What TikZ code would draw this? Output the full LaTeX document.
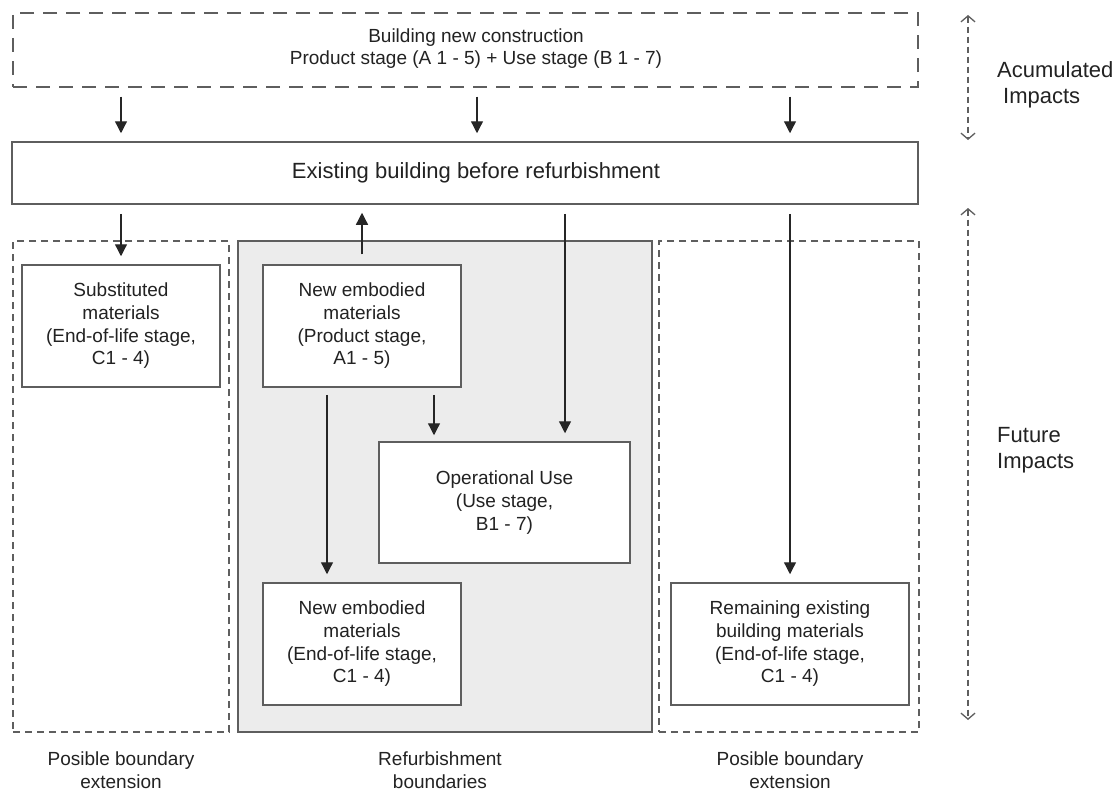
\documentclass[tikz,border=0pt]{standalone}
\usepackage{fontspec}
\setmainfont{Liberation Sans}
\usetikzlibrary{arrows.meta}
\definecolor{boxc}{HTML}{5E5E5E}
\definecolor{arrc}{HTML}{262626}
\definecolor{txtc}{HTML}{222222}
\definecolor{grayfill}{HTML}{ECECEC}
\tikzset{
  box/.style={draw=boxc, line width=1.5pt, fill=white, inner sep=0pt, align=center, text=txtc, font=\fontsize{19}{22.7}\selectfont},
  dbox/.style={draw=boxc, line width=1.4pt, dash pattern=on 7pt off 5pt, inner sep=0pt},
  topbox/.style={draw=boxc, line width=1.4pt, dash pattern=on 14pt off 9pt, inner sep=0pt},
  graybox/.style={draw=boxc, line width=1.5pt, fill=grayfill, inner sep=0pt},
  txt/.style={align=center, text=txtc, inner sep=0pt, font=\fontsize{19}{22.7}\selectfont},
  bigtxt/.style={align=left, text=txtc, inner sep=0pt, font=\fontsize{22}{26}\selectfont},
  arr/.style={draw=arrc, line width=1.3pt, -{Triangle[length=12pt,width=12pt]}, shorten <=9pt, shorten >=8pt},
  dblarr/.style={draw=boxc, line width=1.2pt, dash pattern=on 6pt off 4pt, {Straight Barb[length=6pt,width=14pt,line width=1.3pt]}-{Straight Barb[length=6pt,width=14pt,line width=1.3pt]}}
}
\begin{document}
\begin{tikzpicture}[x=1pt,y=-1pt]
\useasboundingbox (0,0) rectangle (1118,792);
% containers
\node[topbox, minimum width=905pt, minimum height=74pt] (top) at (465.5,50) {};
\node[txt] (toptxt) at (476,48.5) {Building new construction\\Product stage (A 1 - 5) + Use stage (B 1 - 7)};
\node[box, minimum width=906pt, minimum height=62pt] (exist) at (465,173) {};
\node[txt, font=\fontsize{22}{26}\selectfont] (existtxt) at (476,173) {Existing building before refurbishment};
\node[dbox, minimum width=216pt, minimum height=491pt] (leftext) at (121,486.5) {};
\node[graybox, minimum width=414pt, minimum height=491pt] (refurb) at (445,486.5) {};
\node[dbox, minimum width=260pt, minimum height=491pt] (rightext) at (789,486.5) {};
% inner boxes
\node[box, minimum width=198pt, minimum height=122pt] (subst) at (121,326) {Substituted\\materials\\(End-of-life stage,\\C1 - 4)};
\node[box, minimum width=198pt, minimum height=122pt] (newprod) at (362,326) {New embodied\\materials\\(Product stage,\\A1 - 5)};
\node[box, minimum width=251pt, minimum height=121pt] (oper) at (504.5,502.5) {Operational Use\\(Use stage,\\B1 - 7)};
\node[box, minimum width=198pt, minimum height=122pt] (neweol) at (362,644) {New embodied\\materials\\(End-of-life stage,\\C1 - 4)};
\node[box, minimum width=238pt, minimum height=122pt] (remain) at (790,644) {Remaining existing\\building materials\\(End-of-life stage,\\C1 - 4)};
% labels
\node[txt] (lbl1) at (121,770.5) {Posible boundary\\extension};
\node[txt] (lbl2) at (440,770.5) {Refurbishment\\boundaries};
\node[txt] (lbl3) at (790,770.5) {Posible boundary\\extension};
\node[bigtxt, anchor=west] (acc) at (997,85) {Acumulated\\\hspace*{6pt}Impacts};
\node[bigtxt, anchor=west] (fut) at (997,450) {Future\\Impacts};
% x positions
\coordinate (xa) at (121,0);
\coordinate (xb) at (477,0);
\coordinate (xc) at (790,0);
\coordinate (xd) at (362,0);
\coordinate (xe) at (565,0);
\coordinate (xf) at (434,0);
\coordinate (xg) at (327,0);
% arrows
\draw[arr] (top.south -| xa) -- (exist.north -| xa);
\draw[arr] (top.south -| xb) -- (exist.north -| xb);
\draw[arr] (top.south -| xc) -- (exist.north -| xc);
\draw[arr] (exist.south -| xa) -- (subst.north -| xa);
\draw[arr, shorten <=10pt] (newprod.north -| xd) -- (exist.south -| xd);
\draw[arr] (exist.south -| xe) -- (oper.north -| xe);
\draw[arr, shorten <=7pt, shorten >=6pt] (newprod.south -| xf) -- (oper.north -| xf);
\draw[arr, shorten <=7pt] (newprod.south -| xg) -- (neweol.north -| xg);
\draw[arr] (exist.south -| xc) -- (remain.north -| xc);
% impact range arrows
\coordinate (r1a) at (968,15);
\coordinate (r1b) at (968,140);
\coordinate (r2a) at (968,208);
\coordinate (r2b) at (968,720);
\draw[dblarr] (r1a) -- (r1b);
\draw[dblarr] (r2a) -- (r2b);
\end{tikzpicture}
\end{document}
